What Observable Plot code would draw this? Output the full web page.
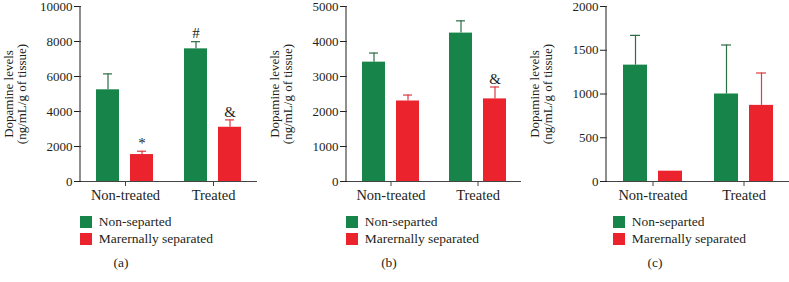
<!DOCTYPE html>
<html>
<head>
<meta charset="utf-8">
<script src="https://cdn.jsdelivr.net/npm/d3@7"></script>
<script src="https://cdn.jsdelivr.net/npm/@observablehq/plot@0.6"></script>
<style>
  body { margin: 0; background: white; }
  #root { display: flex; flex-direction: row; width: 789px; height: 282px; }
  .panel { position: relative; width: 263px; height: 282px; }
  .caption { position: absolute; top: 255px; font: 13.5px 'Liberation Serif', serif; color: #231f20; width: 40px; text-align: center; }
</style>
</head>
<body>
<div id="root"></div>
<script>
// ---- data ----
const categories = ["Non-treated", "Treated"];
const groups = ["Non-separted", "Marernally separated"];
const colors = ["#17844a", "#ea232c"];
const errColors = ["#2a6e44", "#de3a40"];
const panelLabels = ["(a)", "(b)", "(c)"];
const yMax = [10000, 5000, 2000];
const yStep = [2000, 1000, 500];
const yLabel = "Dopamine levels\n(ng/mL/g of tissue)";

// order: Non-treated/Non-separted, Non-treated/Marernally, Treated/Non-separted, Treated/Marernally
const meansA = [5240, 1540, 7580, 3100];
const semsA  = [910, 190, 410, 420];
const marksA = ["", "*", "#", "&"];

const meansB = [3410, 2300, 4240, 2360];
const semsB  = [260, 170, 350, 340];
const marksB = ["", "", "", "&"];

const meansC = [1330, 118, 1000, 870];
const semsC  = [340, 0, 560, 370];
const marksC = ["", "", "", ""];

const panels = [
  {means: meansA, sems: semsA, marks: marksA, ml: 80, mr: 6, legendLeft: 80, capLeft: 101},
  {means: meansB, sems: semsB, marks: marksB, ml: 83, mr: 5, legendLeft: 83, capLeft: 106},
  {means: meansC, sems: semsC, marks: marksC, ml: 80, mr: 0, legendLeft: 87, capLeft: 109}
];

const font = "'Liberation Serif', 'Times New Roman', serif";
const root = document.getElementById("root");

panels.forEach((p, i) => {
  const rows = [];
  categories.forEach((c, ci) => groups.forEach((g, gi) => {
    const k = ci * 2 + gi;
    rows.push({cat: c, group: g, mean: p.means[k], hi: p.means[k] + p.sems[k], mark: p.marks[k]});
  }));
  const ticks = d3.range(0, yMax[i] + 1, yStep[i]);
  const svg = Plot.plot({
    width: 263, height: 210,
    marginLeft: p.ml, marginRight: p.mr, marginTop: 6, marginBottom: 29,
    style: {fontFamily: font, fontSize: "13px", color: "#231f20", background: "white", overflow: "visible"},
    fx: {domain: categories, padding: 0, label: null},
    x: {domain: groups, paddingInner: 0.31, paddingOuter: 0.42, axis: null},
    y: {domain: [0, yMax[i]]},
    color: {domain: groups, range: colors},
    marks: [
      Plot.axisY({ticks, tickSize: 7, tickPadding: 2, tickFormat: d => String(d),
        label: yLabel, labelAnchor: "center", labelOffset: 78, labelArrow: "none"}),
      Plot.axisFx({anchor: "bottom", tickSize: 5, tickPadding: 3, fontSize: 14.5, label: null, stroke: "#444"}),
      Plot.barY(rows, {fx: "cat", x: "group", y: "mean", fill: "group"}),
      Plot.ruleX(rows, {fx: "cat", x: "group", y1: "mean", y2: "hi",
        stroke: d => errColors[groups.indexOf(d.group)], strokeWidth: 1.2}),
      Plot.tickY(rows.filter(d => d.hi > d.mean), {fx: "cat", x: "group", y: "hi",
        stroke: d => errColors[groups.indexOf(d.group)], strokeWidth: 1.2, insetLeft: 7, insetRight: 7}),
      Plot.text(rows, {fx: "cat", x: "group", y: "hi", text: "mark", dy: -8, fontSize: 15}),
      Plot.ruleY([0], {stroke: "#444", strokeWidth: 1.2})
    ]
  });
  // y axis line along the left edge of the frame
  const y = svg.scale("y");
  d3.select(svg).append("line")
    .attr("x1", p.ml).attr("x2", p.ml)
    .attr("y1", y.apply(yMax[i])).attr("y2", y.apply(0))
    .attr("stroke", "#444").attr("stroke-width", 1.2);

  const panel = document.createElement("div");
  panel.className = "panel";
  panel.appendChild(svg);

  const legend = Plot.legend({
    color: {domain: groups, range: colors},
    legend: "swatches", columns: 1, swatchSize: 12,
    style: {fontFamily: font, fontSize: "13.5px", color: "#231f20", marginLeft: p.legendLeft + "px", marginTop: "4px"}
  });
  panel.appendChild(legend);

  const cap = document.createElement("div");
  cap.className = "caption";
  cap.style.left = (p.capLeft) + "px";
  cap.textContent = panelLabels[i];
  panel.appendChild(cap);

  root.appendChild(panel);
});
</script>
</body>
</html>
